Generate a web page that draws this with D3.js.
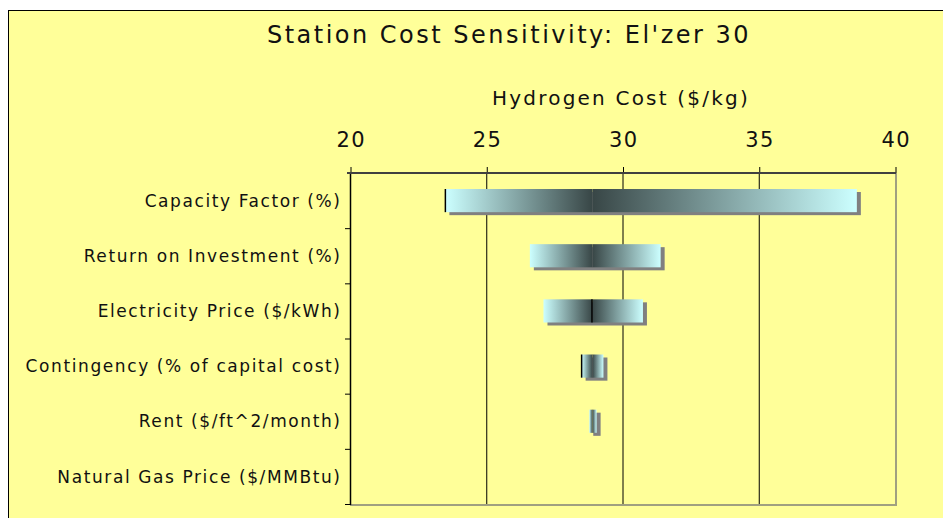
<!DOCTYPE html>
<html>
<head>
<meta charset="utf-8">
<script src="https://cdn.jsdelivr.net/npm/d3@7"></script>
<style>
  html, body { margin: 0; padding: 0; background: #ffffff; }
  svg { display: block; font-family: "DejaVu Sans", Verdana, sans-serif; }
</style>
</head>
<body>
<svg id="chart" width="943" height="518"></svg>
<script>
// Sensitivity drivers, top to bottom
const categories = [
  "Capacity Factor (%)",
  "Return on Investment (%)",
  "Electricity Price ($/kWh)",
  "Contingency (% of capital cost)",
  "Rent ($/ft^2/month)",
  "Natural Gas Price ($/MMBtu)"
];
// Hydrogen cost ($/kg) at the low and high end of each driver's range
const lowValues  = [23.5, 26.6, 27.1, 28.5, 28.78, 28.9];
const highValues = [38.6, 31.4, 30.75, 29.3, 29.05, 28.9];
// Base-case hydrogen cost ($/kg)
const baseValue = 28.9;
// Boundary markers drawn on some bars
const markerValues = [23.5, null, 28.88, 28.5, null, null];
const tickValues = [20, 25, 30, 35, 40];

const title = "Station Cost Sensitivity: El'zer 30";
const axisTitle = "Hydrogen Cost ($/kg)";

const svg = d3.select("#chart");
const plotLeft = 350, plotRight = 895, plotTop = 173, plotBottom = 504;

// Chart frame
svg.append("rect")
  .attr("x", 8.5).attr("y", 10.5)
  .attr("width", 960).attr("height", 540)
  .attr("fill", "#ffff99").attr("stroke", "#000").attr("stroke-width", 1);

const x = d3.scaleLinear().domain([20, 40]).range([plotLeft, plotRight]);
const y = d3.scaleBand().domain(categories).range([plotTop, plotBottom]).paddingInner(0.58).paddingOuter(0.29);

// Gradients: light at the range ends, dark at the base case
const defs = svg.append("defs");
const light = "#ccffff", dark = "#384646";
const gl = defs.append("linearGradient").attr("id", "gradLow").attr("x1", 0).attr("x2", 1).attr("y1", 0).attr("y2", 0);
gl.append("stop").attr("offset", 0).attr("stop-color", light);
gl.append("stop").attr("offset", 1).attr("stop-color", dark);
const gh = defs.append("linearGradient").attr("id", "gradHigh").attr("x1", 0).attr("x2", 1).attr("y1", 0).attr("y2", 0);
gh.append("stop").attr("offset", 0).attr("stop-color", dark);
gh.append("stop").attr("offset", 1).attr("stop-color", light);

// Gridlines
svg.append("g").selectAll("line").data(tickValues.filter(v => v > 20 && v < 40)).join("line")
  .attr("x1", d => x(d) + 0.5).attr("x2", d => x(d) + 0.5)
  .attr("y1", plotTop).attr("y2", plotBottom)
  .attr("stroke", "#000").attr("stroke-width", 1);

// Plot border right and bottom
svg.append("line").attr("x1", plotRight + 1).attr("x2", plotRight + 1).attr("y1", plotTop).attr("y2", plotBottom + 1)
  .attr("stroke", "#a0a080").attr("stroke-width", 2);
svg.append("line").attr("x1", plotLeft).attr("x2", plotRight + 2).attr("y1", plotBottom + 1).attr("y2", plotBottom + 1)
  .attr("stroke", "#a0a080").attr("stroke-width", 2);

// Bars
const rows = categories.map((c, i) => ({ c, lo: lowValues[i], hi: highValues[i], m: markerValues[i] }));
const bars = svg.append("g");
bars.selectAll("rect.shadow").data(rows.filter(d => d.hi > d.lo)).join("rect")
  .attr("class", "shadow")
  .attr("x", d => x(d.lo) + 4).attr("y", d => y(d.c) + 3)
  .attr("width", d => x(d.hi) - x(d.lo)).attr("height", y.bandwidth())
  .attr("fill", "#808080");
bars.selectAll("rect.lo").data(rows.filter(d => baseValue > d.lo)).join("rect")
  .attr("class", "lo")
  .attr("x", d => x(d.lo)).attr("y", d => y(d.c))
  .attr("width", d => x(baseValue) - x(d.lo)).attr("height", y.bandwidth())
  .attr("fill", "url(#gradLow)");
bars.selectAll("rect.hi").data(rows.filter(d => d.hi > baseValue)).join("rect")
  .attr("class", "hi")
  .attr("x", d => x(baseValue)).attr("y", d => y(d.c))
  .attr("width", d => x(d.hi) - x(baseValue)).attr("height", y.bandwidth())
  .attr("fill", "url(#gradHigh)");
bars.selectAll("line.marker").data(rows.filter(d => d.m != null)).join("line")
  .attr("class", "marker")
  .attr("x1", d => x(d.m)).attr("x2", d => x(d.m))
  .attr("y1", d => y(d.c)).attr("y2", d => y(d.c) + y.bandwidth())
  .attr("stroke", "#000").attr("stroke-width", 1.5);

// Left category axis
const yEdge = d3.scaleLinear().domain([0, categories.length]).range([plotTop, plotBottom]);
const gy = svg.append("g");
gy.append("line").attr("x1", plotLeft + 0.5).attr("x2", plotLeft + 0.5).attr("y1", plotTop).attr("y2", plotBottom + 1)
  .attr("stroke", "#000").attr("stroke-width", 1.5);
gy.selectAll("line.tick").data(d3.range(1, categories.length + 1)).join("line")
  .attr("class", "tick")
  .attr("x1", plotLeft - 5).attr("x2", plotLeft)
  .attr("y1", d => yEdge(d) + 0.5).attr("y2", d => yEdge(d) + 0.5)
  .attr("stroke", "#000");
gy.selectAll("text").data(categories).join("text")
  .attr("x", 341.6).attr("y", d => y(d) + y.bandwidth() / 2)
  .attr("dy", "0.36em").attr("text-anchor", "end")
  .attr("font-size", 17).attr("letter-spacing", 1.6).attr("fill", "#111")
  .text(d => d);

// Top value axis
const gx = svg.append("g").attr("transform", `translate(0,${plotTop})`)
  .call(d3.axisTop(x).tickValues(tickValues).tickSize(6).tickPadding(20).tickFormat(d3.format("d")));
gx.select(".domain").remove();
gx.selectAll(".tick line").attr("stroke", "#000").attr("transform", "translate(0.5,0)");
gx.selectAll(".tick text").attr("font-size", 21).attr("letter-spacing", 1.5).attr("dx", 0.75)
  .attr("font-family", "DejaVu Sans, Verdana, sans-serif").attr("fill", "#111");
svg.append("line").attr("x1", plotLeft - 3).attr("x2", plotRight + 1).attr("y1", plotTop).attr("y2", plotTop)
  .attr("stroke", "#404040").attr("stroke-width", 2);

// Titles
svg.append("text").attr("x", 509).attr("y", 43).attr("text-anchor", "middle")
  .attr("font-size", 24).attr("letter-spacing", 2.5).attr("fill", "#111").text(title);
svg.append("text").attr("x", 621).attr("y", 105).attr("text-anchor", "middle")
  .attr("font-size", 20).attr("letter-spacing", 2.2).attr("fill", "#111").text(axisTitle);
</script>
</body>
</html>
